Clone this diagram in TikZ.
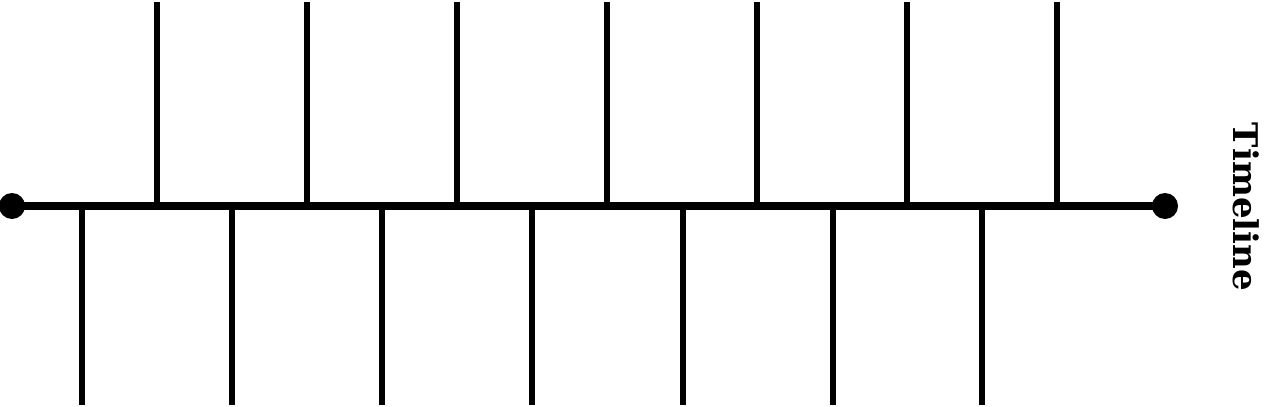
\documentclass[tikz,border=0pt]{standalone}
\usepackage{fontspec}
\newfontfamily\labelfont{DejaVu Serif}
\begin{document}
\begin{tikzpicture}[x=1pt,y=-1pt,
  axis/.style={line width=7.5pt},
  tick/.style={line width=6.5pt},
  enddot/.style={circle,fill=black,inner sep=0pt,minimum size=26pt},
  title/.style={font=\labelfont\bfseries\fontsize{34}{34}\selectfont,rotate=-90,inner sep=0pt}]
\useasboundingbox (0,0) rectangle (1270,407);
\node[enddot] (L) at (12,206) {};
\node[enddot] (R) at (1165,206) {};
\draw[axis] (L.center) -- (R.center);
\foreach \i/\x in {1/157,2/307,3/457,4/607,5/757,6/907,7/1057}{
  \coordinate (ut\i) at (\x,2);
  \coordinate (ub\i) at (\x,206);
  \draw[tick] (ub\i) -- (ut\i);
}
\foreach \i/\x in {1/82,2/232,3/382,4/532,5/683,6/833,7/982}{
  \coordinate (lt\i) at (\x,206);
  \coordinate (lb\i) at (\x,405);
  \draw[tick] (lt\i) -- (lb\i);
}
\node[title] (T) at (1246,207) {Timeline};
\end{tikzpicture}
\end{document}
